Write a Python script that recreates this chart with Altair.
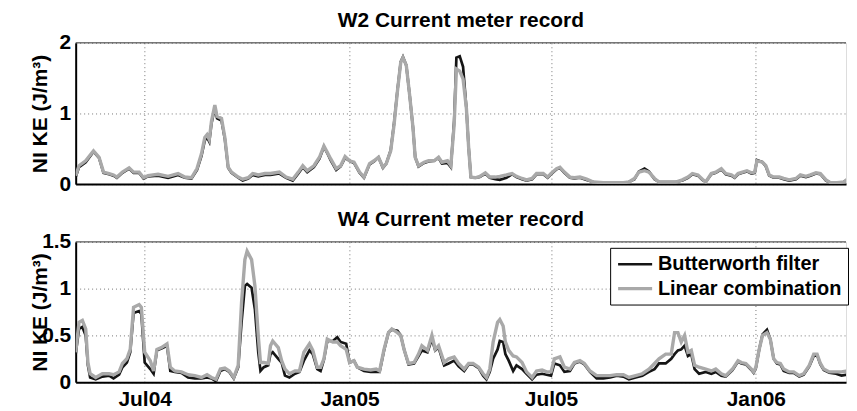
import altair as alt
import pandas as pd

BASE_DATE = "2004-04-30"
series_names = ["Butterworth filter", "Linear combination"]
panel_titles = ["W2 Current meter record", "W4 Current meter record"]
y_title = "NI KE (J/m³)"
tick_dates = [(2004, 7, 1), (2005, 1, 1), (2005, 7, 1), (2006, 1, 1)]

# W2 record: day since 2004-04-30, Butterworth, Linear combination
w2_day = [0, 3, 9, 16, 21, 25, 30, 34, 37, 42, 48, 52, 57, 61, 65, 74, 83, 92, 98, 104,
          109, 113, 116, 118, 120, 122, 125, 127, 131, 134, 137, 140, 146, 150, 155, 159, 164, 170, 175, 183,
          189, 195, 200, 204, 208, 214, 219, 223, 226, 229, 234, 238, 242, 246, 250, 255, 259, 264, 268, 272,
          276, 279, 283, 286, 289, 292, 294, 297, 300, 303, 305, 308, 313, 317, 322, 326, 329, 334, 337, 340,
          342, 345, 348, 351, 353, 355, 359, 363, 368, 372, 377, 381, 387, 392, 396, 401, 405, 410, 414, 420,
          424, 427, 432, 435, 439, 444, 448, 453, 459, 465, 474, 483, 492, 497, 502, 506, 511, 515, 520, 524,
          531, 539, 545, 550, 554, 559, 563, 566, 571, 575, 580, 584, 589, 592, 595, 599, 603, 607, 610, 612,
          617, 620, 623, 627, 632, 636, 641, 647, 651, 656, 660, 665, 669, 674, 678, 684, 690, 694, 697, 700]
w2_butter = [0.10, 0.24, 0.31, 0.46, 0.37, 0.16, 0.14, 0.12, 0.09, 0.16, 0.22, 0.16, 0.16, 0.08, 0.11, 0.12, 0.09, 0.13, 0.09, 0.08,
             0.20, 0.40, 0.62, 0.66, 0.60, 0.86, 1.08, 0.93, 0.90, 0.64, 0.23, 0.16, 0.09, 0.05, 0.08, 0.13, 0.11, 0.13, 0.13, 0.15,
             0.09, 0.05, 0.15, 0.24, 0.17, 0.24, 0.36, 0.53, 0.44, 0.34, 0.20, 0.25, 0.37, 0.33, 0.30, 0.16, 0.09, 0.28, 0.32, 0.38,
             0.23, 0.29, 0.48, 0.86, 1.32, 1.73, 1.80, 1.68, 1.26, 0.80, 0.38, 0.25, 0.30, 0.32, 0.33, 0.37, 0.29, 0.30, 0.24, 0.90,
             1.79, 1.81, 1.66, 1.07, 0.52, 0.10, 0.09, 0.10, 0.15, 0.09, 0.07, 0.06, 0.09, 0.14, 0.10, 0.07, 0.05, 0.07, 0.14, 0.14,
             0.09, 0.14, 0.21, 0.23, 0.16, 0.09, 0.08, 0.09, 0.06, 0.03, 0.02, 0.02, 0.02, 0.03, 0.07, 0.18, 0.22, 0.18, 0.07, 0.03,
             0.03, 0.03, 0.05, 0.09, 0.14, 0.12, 0.06, 0.03, 0.14, 0.16, 0.21, 0.14, 0.12, 0.09, 0.14, 0.16, 0.18, 0.15, 0.16, 0.34,
             0.31, 0.25, 0.12, 0.09, 0.09, 0.07, 0.05, 0.07, 0.12, 0.10, 0.12, 0.15, 0.14, 0.05, 0.02, 0.02, 0.03, 0.07, 0.16, 0.18]
w2_linear = [0.12, 0.26, 0.33, 0.47, 0.38, 0.17, 0.15, 0.13, 0.10, 0.17, 0.23, 0.17, 0.17, 0.09, 0.12, 0.14, 0.11, 0.15, 0.10, 0.09,
             0.22, 0.43, 0.66, 0.70, 0.63, 0.89, 1.12, 0.96, 0.93, 0.66, 0.24, 0.17, 0.10, 0.07, 0.09, 0.15, 0.13, 0.15, 0.15, 0.17,
             0.10, 0.07, 0.17, 0.26, 0.19, 0.26, 0.38, 0.54, 0.45, 0.36, 0.22, 0.26, 0.39, 0.33, 0.31, 0.17, 0.10, 0.29, 0.33, 0.38,
             0.24, 0.29, 0.47, 0.84, 1.31, 1.72, 1.79, 1.68, 1.26, 0.80, 0.38, 0.26, 0.31, 0.33, 0.33, 0.38, 0.31, 0.33, 0.26, 0.84,
             1.63, 1.60, 1.49, 1.07, 0.52, 0.10, 0.09, 0.11, 0.16, 0.10, 0.10, 0.11, 0.13, 0.15, 0.11, 0.08, 0.06, 0.08, 0.15, 0.15,
             0.10, 0.15, 0.22, 0.24, 0.17, 0.10, 0.09, 0.10, 0.07, 0.03, 0.02, 0.02, 0.02, 0.03, 0.08, 0.17, 0.19, 0.17, 0.08, 0.03,
             0.03, 0.03, 0.06, 0.10, 0.15, 0.13, 0.07, 0.03, 0.15, 0.17, 0.22, 0.15, 0.13, 0.10, 0.15, 0.17, 0.19, 0.16, 0.17, 0.33,
             0.31, 0.26, 0.13, 0.10, 0.10, 0.08, 0.06, 0.08, 0.13, 0.11, 0.13, 0.16, 0.15, 0.06, 0.02, 0.02, 0.03, 0.08, 0.17, 0.19]

# W4 record
w4_day = [0, 3, 6, 9, 11, 13, 18, 24, 30, 34, 39, 42, 46, 49, 52, 57, 59, 62, 67, 70,
          73, 77, 82, 85, 89, 95, 101, 107, 113, 118, 122, 126, 130, 134, 138, 142, 146, 149, 152, 154,
          158, 161, 164, 166, 169, 173, 175, 177, 182, 185, 188, 192, 197, 201, 205, 210, 213, 217, 220, 223,
          226, 231, 235, 238, 243, 246, 250, 253, 259, 265, 270, 273, 277, 281, 284, 289, 292, 295, 299, 304,
          308, 311, 316, 320, 323, 326, 331, 335, 340, 344, 349, 353, 357, 362, 366, 369, 372, 375, 379, 381,
          384, 386, 389, 393, 396, 401, 405, 410, 414, 419, 423, 427, 430, 435, 439, 444, 448, 453, 457, 462,
          468, 474, 480, 486, 492, 497, 503, 509, 515, 520, 524, 530, 535, 538, 541, 544, 547, 550, 553, 556,
          560, 566, 571, 575, 580, 584, 590, 595, 598, 602, 607, 609, 611, 614, 617, 621, 624, 627, 630, 633,
          636, 641, 645, 650, 654, 659, 663, 666, 669, 672, 677, 683, 688, 693, 696, 698, 700]
w4_butter = [0.30, 0.57, 0.59, 0.50, 0.18, 0.05, 0.03, 0.06, 0.07, 0.04, 0.08, 0.16, 0.21, 0.32, 0.74, 0.76, 0.73, 0.21, 0.14, 0.09,
             0.34, 0.36, 0.39, 0.12, 0.11, 0.10, 0.05, 0.04, 0.04, 0.05, 0.04, 0.01, 0.12, 0.14, 0.11, 0.04, 0.16, 0.64, 1.03, 1.05,
             1.01, 0.78, 0.32, 0.12, 0.16, 0.18, 0.30, 0.32, 0.25, 0.21, 0.07, 0.05, 0.09, 0.11, 0.23, 0.34, 0.30, 0.14, 0.12, 0.24,
             0.44, 0.44, 0.48, 0.43, 0.41, 0.21, 0.23, 0.16, 0.12, 0.11, 0.11, 0.11, 0.34, 0.53, 0.56, 0.55, 0.50, 0.35, 0.19, 0.20,
             0.28, 0.34, 0.32, 0.46, 0.34, 0.37, 0.18, 0.20, 0.23, 0.17, 0.12, 0.19, 0.19, 0.15, 0.07, 0.03, 0.11, 0.25, 0.35, 0.44,
             0.43, 0.30, 0.23, 0.12, 0.18, 0.14, 0.09, 0.03, 0.08, 0.09, 0.08, 0.07, 0.20, 0.18, 0.11, 0.12, 0.20, 0.22, 0.19, 0.11,
             0.04, 0.04, 0.05, 0.07, 0.06, 0.03, 0.05, 0.07, 0.11, 0.14, 0.20, 0.20, 0.25, 0.30, 0.34, 0.35, 0.39, 0.28, 0.30, 0.14,
             0.09, 0.11, 0.09, 0.11, 0.07, 0.06, 0.13, 0.22, 0.20, 0.19, 0.13, 0.10, 0.15, 0.35, 0.51, 0.56, 0.46, 0.25, 0.20, 0.19,
             0.12, 0.10, 0.10, 0.06, 0.08, 0.17, 0.28, 0.29, 0.19, 0.13, 0.10, 0.09, 0.07, 0.08, 0.11, 0.14, 0.15]
w4_linear = [0.32, 0.64, 0.66, 0.57, 0.21, 0.09, 0.05, 0.09, 0.09, 0.08, 0.11, 0.20, 0.25, 0.35, 0.80, 0.83, 0.80, 0.32, 0.23, 0.12,
             0.35, 0.37, 0.41, 0.16, 0.12, 0.11, 0.08, 0.07, 0.05, 0.08, 0.05, 0.03, 0.14, 0.15, 0.12, 0.05, 0.18, 0.85, 1.31, 1.40,
             1.31, 1.03, 0.50, 0.21, 0.21, 0.20, 0.39, 0.44, 0.37, 0.23, 0.14, 0.09, 0.12, 0.12, 0.32, 0.41, 0.34, 0.16, 0.16, 0.25,
             0.46, 0.43, 0.43, 0.39, 0.35, 0.21, 0.23, 0.16, 0.14, 0.13, 0.14, 0.12, 0.35, 0.53, 0.57, 0.53, 0.50, 0.35, 0.20, 0.21,
             0.30, 0.39, 0.34, 0.50, 0.35, 0.39, 0.21, 0.25, 0.27, 0.20, 0.14, 0.20, 0.20, 0.16, 0.09, 0.05, 0.14, 0.43, 0.64, 0.67,
             0.60, 0.43, 0.34, 0.28, 0.27, 0.21, 0.11, 0.05, 0.12, 0.13, 0.11, 0.11, 0.25, 0.27, 0.16, 0.14, 0.21, 0.23, 0.20, 0.12,
             0.07, 0.07, 0.07, 0.08, 0.08, 0.05, 0.07, 0.09, 0.14, 0.20, 0.25, 0.30, 0.30, 0.53, 0.53, 0.43, 0.50, 0.32, 0.34, 0.18,
             0.16, 0.14, 0.12, 0.14, 0.09, 0.07, 0.14, 0.23, 0.21, 0.20, 0.14, 0.11, 0.16, 0.35, 0.50, 0.53, 0.46, 0.25, 0.21, 0.20,
             0.14, 0.11, 0.11, 0.07, 0.09, 0.18, 0.30, 0.30, 0.20, 0.14, 0.11, 0.11, 0.11, 0.12, 0.16, 0.39, 0.35]

FONT = "Liberation Sans"
FS = 21
PLOT_W = 774


def make_frame(days, butter, linear):
    base = pd.Timestamp(BASE_DATE)
    rows = []
    for name, vals in zip(series_names, [butter, linear]):
        for d, v in zip(days, vals):
            rows.append({"date": base + pd.Timedelta(days=d), "ke": v, "series": name})
    return pd.DataFrame(rows)


def dt(t):
    return alt.DateTime(year=t[0], month=t[1], date=t[2])


x_domain = [alt.DateTime(year=2004, month=4, date=30), alt.DateTime(year=2006, month=3, date=23)]


def panel(df, title, ymax, yvals, height, show_xlabels, show_legend):
    x_axis = alt.Axis(
        values=[dt(t) for t in tick_dates], format="%b%y", title=None,
        grid=True, gridDash=[1, 3], gridColor="#777", gridWidth=1,
        ticks=False, labels=show_xlabels, labelFont=FONT, labelFontSize=FS,
        labelFontWeight="bold", labelColor="black", labelPadding=6,
        domainColor="black", domainWidth=2,
    )
    y_axis = alt.Axis(
        values=yvals, format="~g", title=y_title,
        titleFont=FONT, titleFontSize=FS, titleFontWeight="bold", titleColor="black",
        titleX=-29, titleY=height / 2, titleAngle=270, titleAlign="center",
        titleBaseline="alphabetic",
        grid=True, gridDash=[1, 3], gridColor="#777", gridWidth=1,
        ticks=False, labelFont=FONT, labelFontSize=FS, labelFontWeight="bold",
        labelColor="black", labelPadding=5, domainColor="black", domainWidth=2,
    )
    if show_legend:
        legend = alt.Legend(
            title=None, orient="none", legendX=537, legendY=6,
            symbolType="M-1,0H2.8", symbolSize=324, symbolStrokeWidth=3,
            labelFont=FONT, labelFontSize=20, labelFontWeight="bold", labelColor="black",
            strokeColor="black", fillColor="white", padding=6, labelOffset=20,
            rowPadding=3, labelLimit=400,
        )
    else:
        legend = None
    lines = alt.Chart(df).mark_line(clip=True).encode(
        x=alt.X("date:T", scale=alt.Scale(domain=x_domain, nice=False), axis=x_axis),
        y=alt.Y("ke:Q", scale=alt.Scale(domain=[0, ymax], nice=False), axis=y_axis),
        color=alt.Color("series:N", scale=alt.Scale(domain=series_names, range=["#151515", "#a9a9a9"]),
                        legend=legend),
        strokeWidth=alt.StrokeWidth("series:N", scale=alt.Scale(domain=series_names, range=[2.7, 3.4]),
                                    legend=None),
    )
    top_frame = alt.Chart(pd.DataFrame({"f": [0]})).mark_rule(color="#444", strokeWidth=1).encode(
        x=alt.value(0), x2=alt.value(PLOT_W), y=alt.value(0)
    )
    return alt.layer(lines, top_frame).properties(
        width=PLOT_W, height=height,
        title=alt.TitleParams(title, font=FONT, fontSize=FS, fontWeight="bold", color="black",
                              anchor="middle", offset=1),
    )


top = panel(make_frame(w2_day, w2_butter, w2_linear), panel_titles[0], 2, [0, 1, 2], 142, False, False)
bottom = panel(make_frame(w4_day, w4_butter, w4_linear), panel_titles[1], 1.5, [0, 0.5, 1, 1.5], 141, True, True)

chart = alt.vconcat(top, bottom, spacing=13).resolve_scale(
    color="independent", strokeWidth="independent"
).resolve_legend(color="independent").properties(
    padding={"left": 21, "top": 0, "right": 0, "bottom": 0}
).configure_view(stroke=None).configure(background="white")

chart.save("out.html", embed_options={"renderer": "svg", "actions": False})
